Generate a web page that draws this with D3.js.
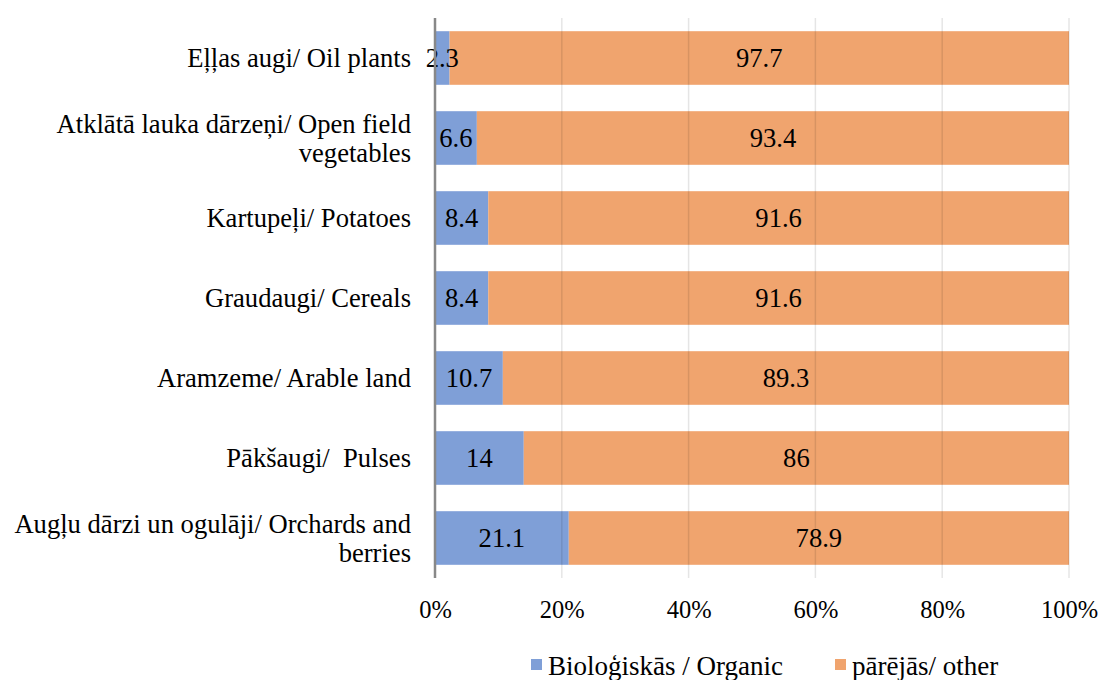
<!DOCTYPE html>
<html>
<head>
<meta charset="utf-8">
<script src="https://cdn.jsdelivr.net/npm/d3@7"></script>
<style>
  body { margin: 0; background: #fff; }
</style>
</head>
<body>
<div class="chart"></div>
<script>
(() => {
var categories = [
    'Eļļas augi/ Oil plants',
    'Atklātā lauka dārzeņi/ Open field\nvegetables',
    'Kartupeļi/ Potatoes',
    'Graudaugi/ Cereals',
    'Aramzeme/ Arable land',
    'Pākšaugi/  Pulses',
    'Augļu dārzi un ogulāji/ Orchards and\nberries'
];
var organic = [2.3, 6.6, 8.4, 8.4, 10.7, 14, 21.1];
var other = [97.7, 93.4, 91.6, 91.6, 89.3, 86, 78.9];
var seriesNames = ['Bioloģiskās / Organic', 'pārējās/ other'];
var ticks = [0, 20, 40, 60, 80, 100];

var width = 1099,
    height = 680,
    margin = {top: 18, right: 30, bottom: 102, left: 435},
    font = '"Liberation Serif", "Times New Roman", Times, serif';

var colors = d3.scaleOrdinal()
    .domain(seriesNames)
    .range(['#7f9fd7', '#f0a46e']);

var svg = d3.select('div.chart')
    .append('svg')
        .attr('width', width)
        .attr('height', height)
        .style('font-family', font);

var x = d3.scaleLinear()
    .domain([0, 100])
    .range([margin.left, 1069]);

var y = d3.scaleBand()
    .domain(categories)
    .range([margin.top, height - margin.bottom])
    .paddingInner(0.33)
    .paddingOuter(0.165);

var segs = [];
categories.forEach((c, i) => {
    var start = 0;
    [organic[i], other[i]].forEach((v, j) => {
        segs.push({cat: c, s: seriesNames[j], x0: start, v: v});
        start += v;
    });
});

// bars
svg.append('g')
    .selectAll('rect')
    .data(segs)
    .enter()
    .append('rect')
        .attr('x', (d) => x(d.x0))
        .attr('y', (d) => y(d.cat))
        .attr('width', (d) => x(d.x0 + d.v) - x(d.x0))
        .attr('height', y.bandwidth())
        .style('fill', (d) => colors(d.s));

// gridlines (faintly visible through the bars)
svg.append('g')
    .selectAll('line')
    .data(ticks.slice(1))
    .enter()
    .append('line')
        .attr('x1', (d) => x(d))
        .attr('x2', (d) => x(d))
        .attr('y1', margin.top)
        .attr('y2', height - margin.bottom)
        .style('stroke', '#000')
        .style('stroke-opacity', 0.1)
        .style('stroke-width', 1.5);

// value labels
svg.append('g')
    .selectAll('text')
    .data(segs)
    .enter()
    .append('text')
        .attr('x', (d) => x(d.x0 + d.v / 2))
        .attr('y', (d) => y(d.cat) + y.bandwidth() / 2)
        .attr('dy', '0.35em')
        .attr('text-anchor', 'middle')
        .style('font-family', font)
        .style('font-size', '26.6px')
        .style('fill', '#000')
        .text((d) => d.v);

// y axis line
svg.append('line')
    .attr('x1', x(0))
    .attr('x2', x(0))
    .attr('y1', margin.top)
    .attr('y2', height - margin.bottom)
    .style('stroke', '#888')
    .style('stroke-width', 2.5);

// x axis tick labels
var xAxis = svg.append('g')
    .attr('transform', 'translate(0,' + (height - margin.bottom) + ')')
    .call(d3.axisBottom(x).tickValues(ticks).tickFormat((d) => d + '%').tickSize(0).tickPadding(23));
xAxis.select('.domain').remove();
xAxis.attr('font-family', null).attr('font-size', null);
xAxis.selectAll('text')
    .style('font-family', font)
    .style('font-size', '24.5px')
    .style('fill', '#000');

// category labels
var labels = svg.append('g');
categories.forEach((c) => {
    var lines = c.split('\n');
    var cy = y(c) + y.bandwidth() / 2;
    var lh = 29;
    lines.forEach((ln, i) => {
        labels.append('text')
            .attr('x', 411)
            .attr('y', cy + (i - (lines.length - 1) / 2) * lh)
            .attr('dy', '0.35em')
            .attr('text-anchor', 'end')
            .style('font-family', font)
            .style('font-size', '26.6px')
            .style('white-space', 'pre')
            .style('fill', '#000')
            .text(ln);
    });
});

// legend
var legend = svg.append('g');
var legendX = [531, 835];
seriesNames.forEach((s, i) => {
    legend.append('rect')
        .attr('x', legendX[i])
        .attr('y', 659)
        .attr('width', 11)
        .attr('height', 11)
        .style('fill', colors(s));
    legend.append('text')
        .attr('x', legendX[i] + 17)
        .attr('y', 666)
        .attr('dy', '0.35em')
        .style('font-family', font)
        .style('font-size', '27px')
        .style('fill', '#000')
        .text(s);
});
})();
</script>
</body>
</html>
